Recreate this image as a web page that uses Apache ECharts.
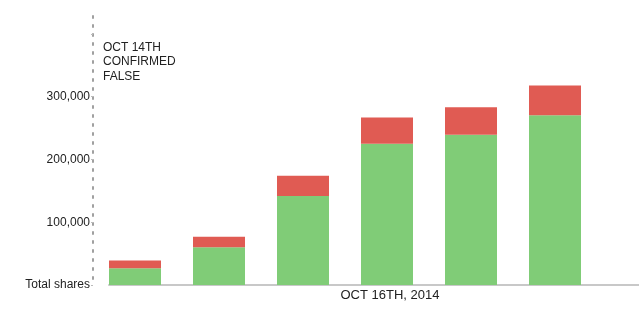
<!DOCTYPE html>
<html>
<head>
<meta charset="utf-8">
<script src="https://cdn.jsdelivr.net/npm/echarts@6/dist/echarts.min.js"></script>
<style>
html,body{margin:0;padding:0;background:#fff;}
#c{width:639px;height:323px;}
</style>
</head>
<body>
<div id="c"></div>
<script>
const categories = ['1', '2', '3', '4', '5', '6'];
const confirmedTrue = [26500, 60300, 141700, 224900, 239200, 270300];
const confirmedFalse = [12700, 16400, 32400, 41700, 43800, 47600];
const yTicks = [0, 100000, 200000, 300000];
const yZeroLabel = 'Total shares';
const xLabel = 'OCT 16TH, 2014';
const annotation = 'OCT 14TH\nCONFIRMED\nFALSE';

const chart = echarts.init(document.getElementById('c'), null, {renderer: 'canvas'});
const font = 'Liberation Sans, Arial, Helvetica, sans-serif';
chart.setOption({
  animation: false,
  backgroundColor: '#fff',
  textStyle: {fontFamily: font},
  title: {
    text: annotation,
    left: 98, top: 35,
    textStyle: {fontSize: 12, fontWeight: 'normal', color: '#222', lineHeight: 14.5, fontFamily: font}
  },
  grid: [
    {left: 93, right: 42, top: 10, bottom: 38, containLabel: false},
    {left: 109, right: 0, top: 10, bottom: 38, containLabel: false}
  ],
  xAxis: [
    {
      type: 'category', gridIndex: 0,
      data: categories,
      axisLine: {show: false}, axisTick: {show: false}, axisLabel: {show: false},
      splitLine: {show: false}
    },
    {
      type: 'value', gridIndex: 1, min: 0, max: 1,
      splitLine: {show: false}, axisTick: {show: false}, axisLabel: {show: false},
      axisLine: {show: true, onZero: false, lineStyle: {color: '#c8c8c8', width: 2}},
      name: xLabel, nameLocation: 'middle', nameGap: 4,
      nameTextStyle: {fontSize: 13, color: '#222', padding: [0, 0, 0, 32], fontFamily: font}
    }
  ],
  yAxis: [
    {
      type: 'value', gridIndex: 0,
      min: 0, max: 438000, interval: 100000,
      splitLine: {show: false},
      axisLine: {show: true, onZero: false, lineStyle: {color: '#a0a0a0', width: 2, type: [2, 7], dashOffset: 3}},
      axisTick: {show: true, length: 2, lineStyle: {color: '#bbb', width: 1}},
      axisLabel: {
        fontSize: 12, color: '#222', margin: 3, fontFamily: font,
        showMaxLabel: false,
        formatter: function (v) {
          if (v === 0) return yZeroLabel;
          if (yTicks.indexOf(v) < 0) return '';
          return v.toLocaleString('en-US');
        }
      }
    },
    {
      type: 'value', gridIndex: 1, min: 0, max: 1, show: false
    }
  ],
  series: [
    {
      type: 'bar', stack: 'total', barWidth: 52,
      xAxisIndex: 0, yAxisIndex: 0,
      itemStyle: {color: '#80cc77'},
      data: confirmedTrue
    },
    {
      type: 'bar', stack: 'total', barWidth: 52,
      xAxisIndex: 0, yAxisIndex: 0,
      itemStyle: {color: '#e05b53'},
      data: confirmedFalse
    }
  ]
});
</script>
</body>
</html>
